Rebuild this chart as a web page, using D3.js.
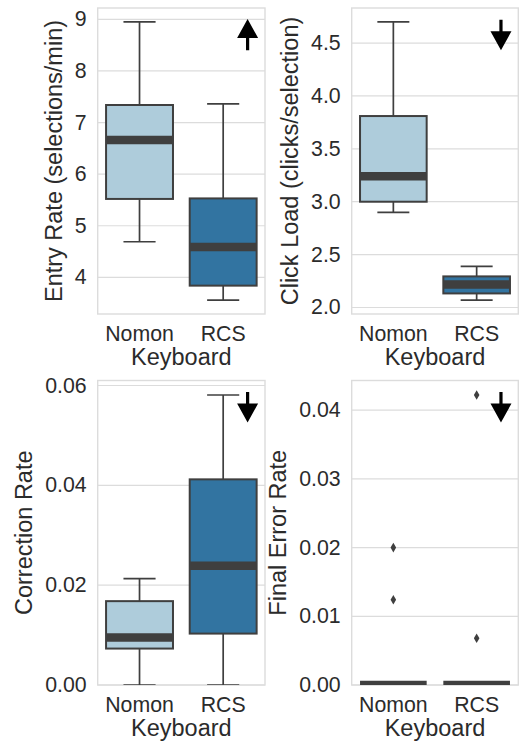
<!DOCTYPE html>
<html>
<head>
<meta charset="utf-8">
<script src="https://cdn.jsdelivr.net/npm/d3@7"></script>
<style>
  body { margin: 0; background: #fff; }
  svg { display: block; }
  text { font-family: "Liberation Sans", Arial, Helvetica, sans-serif; fill: #2b2b2b; }
</style>
</head>
<body>
<svg id="chart" width="519" height="743"></svg>
<script>
// ---- data -------------------------------------------------------------
const keyboards = ["Nomon", "RCS"];

// Box summaries per keyboard: [lower whisker, Q1, median, Q3, upper whisker]
const entryRate      = [[4.69, 5.52, 6.66, 7.34, 8.95], [3.56, 3.84, 4.59, 5.53, 7.36]];
const clickLoad      = [[2.90, 3.00, 3.24, 3.81, 4.70], [2.07, 2.133, 2.218, 2.294, 2.389]];
const correctionRate = [[0, 0.0073, 0.0095, 0.0168, 0.0213], [0, 0.0103, 0.0239, 0.0412, 0.0581]];
const finalErrorRate = [[0, 0, 0, 0, 0], [0, 0, 0, 0, 0]];

// Points beyond the whiskers, per keyboard
const entryRateOutliers      = [[], []];
const clickLoadOutliers      = [[], []];
const correctionRateOutliers = [[], []];
const finalErrorRateOutliers = [[0.020, 0.0124], [0.0422, 0.0068]];

// Tick values
const entryRateTicks      = [4, 5, 6, 7, 8, 9];
const clickLoadTicks      = [2.0, 2.5, 3.0, 3.5, 4.0, 4.5];
const correctionRateTicks = [0, 0.02, 0.04, 0.06];
const finalErrorRateTicks = [0, 0.01, 0.02, 0.03, 0.04];

// Axis titles
const yTitles = ["Entry Rate (selections/min)", "Click Load (clicks/selection)", "Correction Rate", "Final Error Rate"];
const xTitle = "Keyboard";

// Direction of improvement for each metric
const betterDirection = ["up", "down", "down", "down"];

// ---- layout -----------------------------------------------------------
const panels = [
  { stats: entryRate,      outliers: entryRateOutliers,      ticks: entryRateTicks,      fmt: d3.format("d"),   floorZero: false,
    x0: 97.7,  x1: 265,   y0: 8,     y1: 314 },
  { stats: clickLoad,      outliers: clickLoadOutliers,      ticks: clickLoadTicks,      fmt: d3.format(".1f"), floorZero: false,
    x0: 351.7, x1: 518.3, y0: 8,     y1: 314 },
  { stats: correctionRate, outliers: correctionRateOutliers, ticks: correctionRateTicks, fmt: d3.format(".2f"), floorZero: true,
    x0: 97.7,  x1: 265,   y0: 380.5, y1: 685 },
  { stats: finalErrorRate, outliers: finalErrorRateOutliers, ticks: finalErrorRateTicks, fmt: d3.format(".2f"), floorZero: true,
    x0: 351.7, x1: 518.3, y0: 380.5, y1: 685 }
];

const fills = ["#aeccdb", "#3274a1"];
const lineColor = "#3f3f3f";
const gridColor = "#dcdcdc";
const tickFont = 21.3;
const labelFont = 23.5;

const svg = d3.select("#chart");

panels.forEach((p, i) => {
  const g = svg.append("g");

  // value range with 5% padding, as the plotting library does
  const allVals = p.stats.flat().concat(p.outliers.flat());
  const lo = d3.min(allVals), hi = d3.max(allVals);
  const pad = (hi - lo) * 0.05;
  const y = d3.scaleLinear()
    .domain([p.floorZero ? 0 : lo - pad, hi + pad])
    .range([p.y1, p.y0]);
  const x = d3.scaleBand().domain(keyboards).range([p.x0, p.x1]).padding(0);
  const boxW = x.bandwidth() * 0.8;
  const capW = boxW * 0.48;

  // clip region for the plotting area
  const clipId = "clip" + i;
  svg.append("clipPath").attr("id", clipId)
    .append("rect").attr("x", p.x0).attr("y", p.y0)
    .attr("width", p.x1 - p.x0).attr("height", p.y1 - p.y0);

  // horizontal grid
  g.append("g").selectAll("line").data(p.ticks).join("line")
    .attr("x1", p.x0).attr("x2", p.x1)
    .attr("y1", d => y(d)).attr("y2", d => y(d))
    .attr("stroke", gridColor).attr("stroke-width", 1.2);

  // frame
  g.append("rect")
    .attr("x", p.x0).attr("y", p.y0)
    .attr("width", p.x1 - p.x0).attr("height", p.y1 - p.y0)
    .attr("fill", "none").attr("stroke", gridColor).attr("stroke-width", 1.4);

  // boxes
  const plot = g.append("g").attr("clip-path", `url(#${clipId})`);
  const boxes = plot.selectAll("g.box").data(keyboards).join("g").attr("class", "box");

  boxes.each(function (k, j) {
    const s = p.stats[j];
    const cx = x(k) + x.bandwidth() / 2;
    const b = d3.select(this);
    // whiskers
    [[s[0], s[1]], [s[3], s[4]]].forEach(([a, c]) => {
      b.append("line").attr("x1", cx).attr("x2", cx)
        .attr("y1", y(a)).attr("y2", y(c))
        .attr("stroke", lineColor).attr("stroke-width", 1.7);
    });
    // caps
    [s[0], s[4]].forEach(v => {
      b.append("line").attr("x1", cx - capW / 2).attr("x2", cx + capW / 2)
        .attr("y1", y(v)).attr("y2", y(v))
        .attr("stroke", lineColor).attr("stroke-width", 1.7);
    });
    // box
    b.append("rect")
      .attr("x", cx - boxW / 2).attr("width", boxW)
      .attr("y", y(s[3])).attr("height", Math.max(0, y(s[1]) - y(s[3])))
      .attr("fill", fills[j]).attr("stroke", lineColor).attr("stroke-width", 2);
    // median
    b.append("line").attr("x1", cx - boxW / 2).attr("x2", cx + boxW / 2)
      .attr("y1", y(s[2])).attr("y2", y(s[2]))
      .attr("stroke", lineColor).attr("stroke-width", 8.5);
    // outliers
    b.selectAll("path.flier").data(p.outliers[j]).join("path")
      .attr("class", "flier")
      .attr("transform", v => `translate(${cx},${y(v)})`)
      .attr("d", d3.symbol().type(d3.symbolDiamond).size(27))
      .attr("fill", lineColor);
  });

  // y tick labels
  const tickLabels = g.append("g").selectAll("text").data(p.ticks).join("text")
    .attr("x", p.x0 - 11).attr("y", d => y(d))
    .attr("text-anchor", "end").attr("dominant-baseline", "central")
    .attr("font-size", tickFont)
    .text(d => p.fmt(d));
  let maxW = 0;
  tickLabels.each(function () { maxW = Math.max(maxW, this.getComputedTextLength()); });

  // y title
  const ty = (p.y0 + p.y1) / 2;
  const tx = p.x0 - 11 - maxW - 13;
  g.append("text")
    .attr("transform", `translate(${tx},${ty}) rotate(-90)`)
    .attr("text-anchor", "middle")
    .attr("font-size", labelFont)
    .text(yTitles[i]);

  // x tick labels
  g.append("g").selectAll("text").data(keyboards).join("text")
    .attr("x", d => x(d) + x.bandwidth() / 2).attr("y", p.y1 + 27)
    .attr("text-anchor", "middle").attr("font-size", tickFont)
    .text(d => d);

  // x title
  g.append("text")
    .attr("x", (p.x0 + p.x1) / 2).attr("y", p.y1 + 51)
    .attr("text-anchor", "middle").attr("font-size", labelFont)
    .text(xTitle);

  // arrow showing which direction is better (axes-fraction placement)
  const fx = d3.scaleLinear().domain([0, 1]).range([p.x0, p.x1]);
  const fy = d3.scaleLinear().domain([0, 1]).range([p.y1, p.y0]);
  const ax = fx(0.896);
  const up = betterDirection[i] === "up";
  const tip = up ? fy(0.964) : fy(0.862);
  const tail = up ? fy(0.862) : fy(0.962);
  const headLen = 19, headW = 21, stemW = 3.2;
  const dir = up ? 1 : -1; // +1: tip above tail
  const base = tip + dir * headLen;
  const path = d3.path();
  path.moveTo(ax, tip);
  path.lineTo(ax + headW / 2, base);
  path.lineTo(ax + stemW / 2, base);
  path.lineTo(ax + stemW / 2, tail);
  path.lineTo(ax - stemW / 2, tail);
  path.lineTo(ax - stemW / 2, base);
  path.lineTo(ax - headW / 2, base);
  path.closePath();
  g.append("path").attr("d", path.toString()).attr("fill", "#000");
});
</script>
</body>
</html>
